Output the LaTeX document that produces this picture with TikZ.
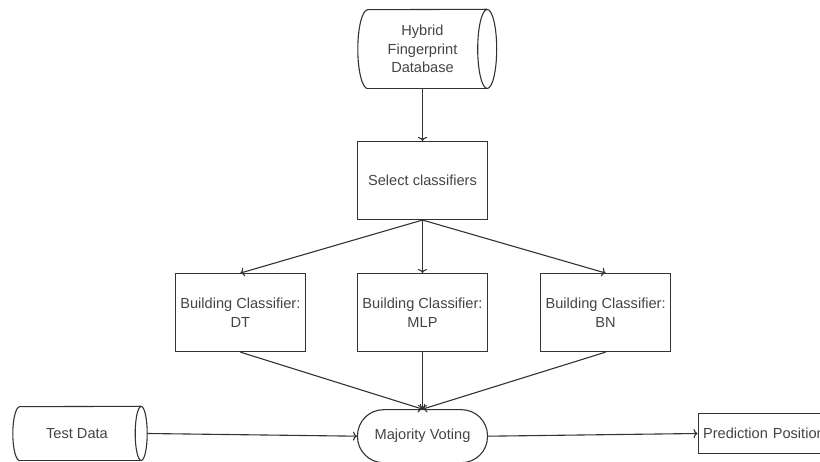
\documentclass[tikz,border=0pt]{standalone}
\usepackage{fontspec}
\setmainfont{Liberation Sans}
\definecolor{ink}{HTML}{333333}
\definecolor{txt}{HTML}{444444}
\usetikzlibrary{positioning, arrows.meta}

\begin{document}
\begin{tikzpicture}[x=1pt, y=1pt, node distance=52pt,
    every node/.style={font=\fontsize{14.6}{18.6}\selectfont, align=center, text=txt},
    box/.style={draw=ink, line width=1.1pt, minimum width=130pt, minimum height=78pt},
    store/.style={inner sep=0pt},
    edge/.style={ink, line width=1.1pt},
    arr/.style={-{To[length=4pt, width=9pt]}, line width=1.1pt, color=ink}]
                    \useasboundingbox (0,0) rectangle (820,462);
                    \node[store, minimum width=129pt, minimum height=79pt] (db) at (422.5,413) {Hybrid\\ Fingerprint\\ Database};
                    \node[box] (sel) at (422.5,281.5) {Select classifiers};
                    \node[box, below=53pt of sel] (mlp) {Building Classifier:\\ MLP};
                    \node[box, left=51pt of mlp] (dt) {Building Classifier:\\ DT};
                    \node[box, right=52pt of mlp] (bn) {Building Classifier:\\ BN};
                    \node[draw=ink, line width=1.1pt, rounded corners=26pt, minimum width=130pt, minimum height=53pt, below=57pt of mlp] (vote) {Majority Voting};
                    \node[store, minimum width=128pt, minimum height=54pt] (test) at (77,28.5) {Test Data};
                    \node[draw=ink, line width=1.1pt, minimum width=132pt, minimum height=40pt, anchor=west, inner sep=5pt, text width=122pt, align=left] (pred) at (697.5,28.5) {Prediction Position};

                    % stored data outlines
                    \draw[edge] ([xshift=10pt]db.south west) arc[start angle=270, end angle=90, x radius=10pt, y radius=39.5pt] -- (db.north east);
                    \draw[edge] ([xshift=10pt]db.south west) -- (db.south east);
                    \draw[edge] (db.east) ellipse [x radius=9.5pt, y radius=39.5pt];
                    \draw[edge] ([xshift=7pt]test.south west) arc[start angle=270, end angle=90, x radius=7pt, y radius=27pt] -- (test.north east);
                    \draw[edge] ([xshift=7pt]test.south west) -- (test.south east);
                    \draw[edge] (test.east) ellipse [x radius=6pt, y radius=27pt];

                    \draw[arr] (db.south) -- (sel.north);
                    \draw[arr] (sel.south) -- (dt.north);
                    \draw[arr] (sel.south) -- (mlp.north);
                    \draw[arr] (sel.south) -- (bn.north);
                    \draw[arr] (dt.south) -- (vote.north);
                    \draw[arr] (mlp.south) -- (vote.north);
                    \draw[arr] (bn.south) -- (vote.north);
                    \draw[arr] ([xshift=6pt]test.east) -- (vote.west);
                    \draw[arr] (vote.east) -- (pred.west);
                \end{tikzpicture}
\end{document}
